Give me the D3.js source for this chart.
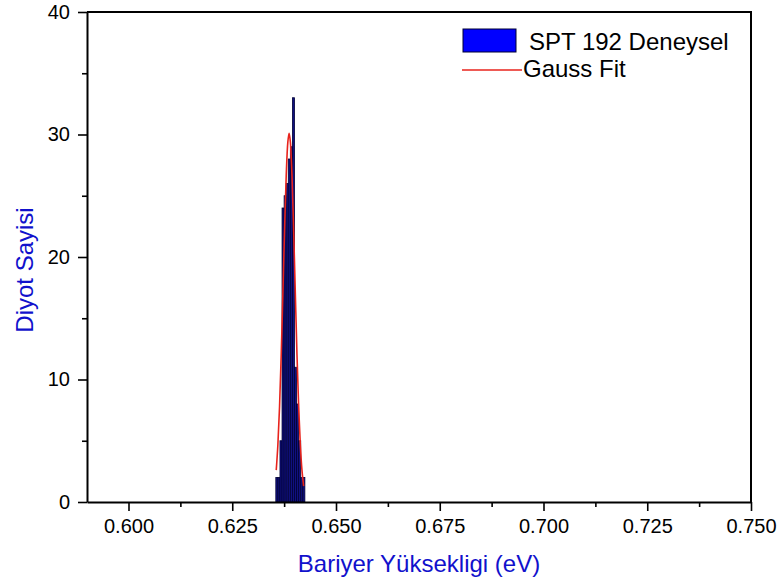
<!DOCTYPE html>
<html>
<head>
<meta charset="utf-8">
<script src="https://cdn.jsdelivr.net/npm/d3@7"></script>
<style>
  html, body { margin: 0; padding: 0; background: #fff; }
  svg { display: block; font-family: "Liberation Sans", Arial, sans-serif; }
</style>
</head>
<body>
<svg id="chart" width="779" height="585"></svg>
<script>
// Histogram of barrier heights (bin start, bin width in eV, diode count)
const binStarts = [0.6355, 0.6360, 0.6365, 0.6370, 0.6375, 0.6380, 0.6385,
                   0.6390, 0.6395, 0.6400, 0.6405, 0.6410, 0.6415, 0.6420];
const binWidth = 0.0005;
const counts = [2, 2, 5, 24, 25, 26, 28, 29, 33, 11, 8, 5, 2, 2];

// Gauss fit curve
const fitX = [0.6356, 0.6360, 0.6364, 0.6368, 0.6372, 0.6376, 0.6380, 0.6384, 0.6387,
              0.6390, 0.6394, 0.6398, 0.6402, 0.6406, 0.6410, 0.6414, 0.6418, 0.6422];
const fitY = [2.6, 4.7, 7.8, 12.0, 17.0, 22.1, 26.6, 29.4, 30.1,
              29.4, 26.6, 22.1, 17.0, 12.0, 7.8, 4.7, 2.6, 1.3];

const xTicks = [0.600, 0.625, 0.650, 0.675, 0.700, 0.725, 0.750];
const xMinorTicks = [0.6125, 0.6375, 0.6625, 0.6875, 0.7125, 0.7375];
const yTicks = [0, 10, 20, 30, 40];
const yMinorTicks = [5, 15, 25, 35];

const legendLabels = ["SPT 192 Deneysel", "Gauss Fit"];
const xTitle = "Bariyer Yüksekligi (eV)";
const yTitle = "Diyot Sayisi";

const svg = d3.select("#chart");
const pLeft = 87, pRight = 751, pTop = 12, pBottom = 502;

const x = d3.scaleLinear().domain([0.590, 0.750]).range([pLeft, pRight]);
const y = d3.scaleLinear().domain([0, 40]).range([pBottom, pTop]);

const bins = binStarts.map((s, i) => ({ x0: s, x1: s + binWidth, n: counts[i] }));

// bars
svg.append("g").selectAll("rect").data(bins).join("rect")
  .attr("x", d => x(d.x0))
  .attr("width", d => x(d.x1) - x(d.x0))
  .attr("y", d => y(d.n))
  .attr("height", d => y(0) - y(d.n))
  .attr("fill", "#101080")
  .attr("stroke", "#000033")
  .attr("stroke-width", 0.8);

// fit line
const line = d3.line()
  .x((d, i) => x(fitX[i]))
  .y(d => y(d))
  .curve(d3.curveCatmullRom);
svg.append("path").datum(fitY)
  .attr("d", line)
  .attr("fill", "none")
  .attr("stroke", "#e8231c")
  .attr("stroke-width", 1.6);

// axes
const fontSize = 20;
const xAxis = d3.axisBottom(x).tickValues(xTicks).tickFormat(d3.format(".3f"))
  .tickSize(9).tickSizeOuter(0).tickPadding(8);
svg.append("g").attr("transform", `translate(0,${pBottom})`).call(xAxis);
const xMinor = d3.axisBottom(x).tickValues(xMinorTicks).tickFormat("").tickSize(5).tickSizeOuter(0);
svg.append("g").attr("transform", `translate(0,${pBottom})`).call(xMinor).select(".domain").remove();

const yAxis = d3.axisLeft(y).tickValues(yTicks).tickFormat(d3.format("d"))
  .tickSize(9).tickSizeOuter(0).tickPadding(8);
svg.append("g").attr("transform", `translate(${pLeft},0)`).call(yAxis);
const yMinor = d3.axisLeft(y).tickValues(yMinorTicks).tickFormat("").tickSize(5).tickSizeOuter(0);
svg.append("g").attr("transform", `translate(${pLeft},0)`).call(yMinor).select(".domain").remove();

svg.selectAll(".tick line").attr("stroke", "#000").attr("stroke-width", 1.6);
svg.selectAll(".domain").attr("stroke", "#000").attr("stroke-width", 2);
svg.selectAll(".tick text").attr("font-size", fontSize).attr("fill", "#000")
  .attr("font-family", "'Liberation Sans', Arial, sans-serif");

// frame top and right
svg.append("path")
  .attr("d", `M${pLeft},${pTop}H${pRight}V${pBottom}`)
  .attr("fill", "none").attr("stroke", "#000").attr("stroke-width", 2);

// titles
svg.append("text").attr("x", 419).attr("y", 572)
  .attr("text-anchor", "middle").attr("font-size", 24).attr("fill", "#1111cc")
  .text(xTitle);
svg.append("text").attr("transform", "translate(33,270) rotate(-90)")
  .attr("text-anchor", "middle").attr("font-size", 24).attr("fill", "#1111cc")
  .text(yTitle);

// legend
const lg = svg.append("g");
lg.append("rect").attr("x", 463).attr("y", 29).attr("width", 53).attr("height", 23)
  .attr("fill", "#0000ff").attr("stroke", "#000033").attr("stroke-width", 1);
lg.append("text").attr("x", 529).attr("y", 49.5).attr("font-size", 24).attr("fill", "#000")
  .text(legendLabels[0]);
lg.append("line").attr("x1", 462).attr("x2", 522).attr("y1", 70).attr("y2", 70)
  .attr("stroke", "#e8231c").attr("stroke-width", 1.6);
lg.append("text").attr("x", 523).attr("y", 77).attr("font-size", 24).attr("fill", "#000")
  .text(legendLabels[1]);
</script>
</body>
</html>
